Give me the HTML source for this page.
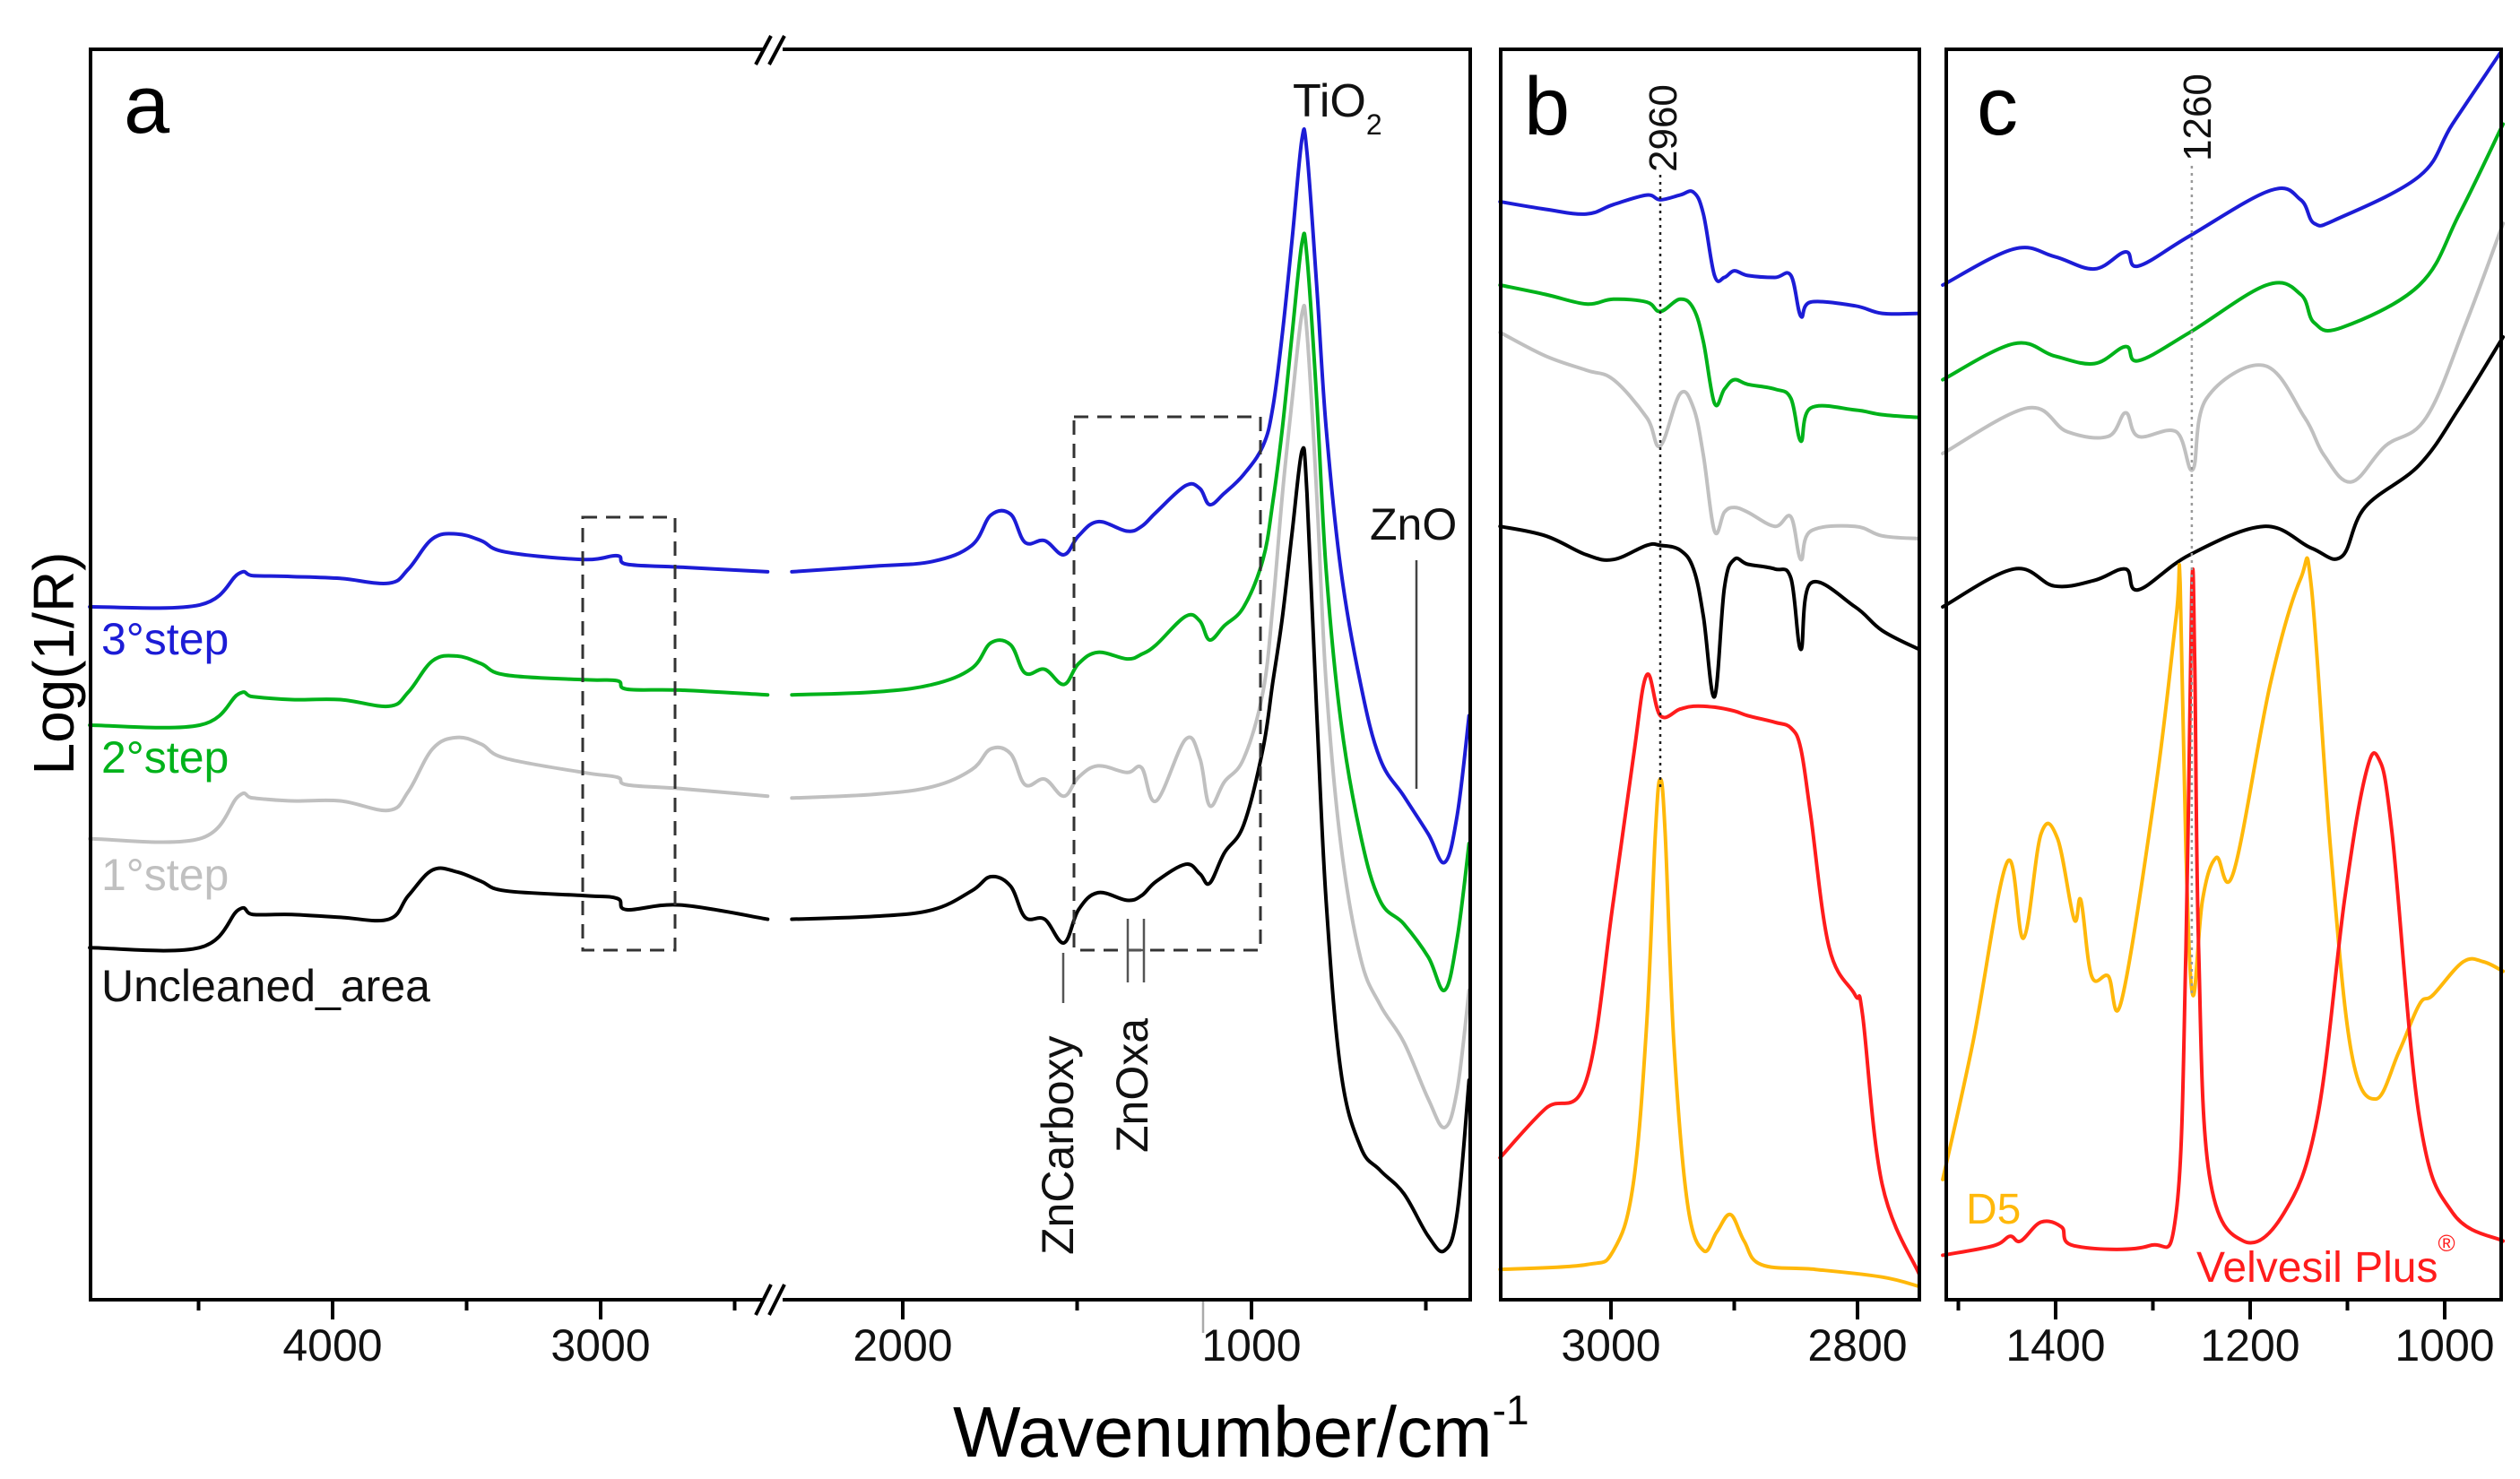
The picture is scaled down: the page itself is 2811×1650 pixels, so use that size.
<!DOCTYPE html>
<html><head><meta charset="utf-8"><style>
html,body{margin:0;padding:0;background:#fff;}
svg{display:block;font-family:"Liberation Sans",Arial,sans-serif;}
</style></head><body>
<svg id="chart" width="2811" height="1650" viewBox="0 0 2811 1650" xmlns="http://www.w3.org/2000/svg">
<g id="marks"></g>
<g id="deco"></g>
</svg>
<script>
// ---- Panel a data ----
const aWnLeft = [4906,4496,4351,4297,4152,3971,3790,3717,3627,3536,3446,3355,3065,2938,2902,2703,2377];
const aWnRight = [2318,2081,1914,1802,1747,1691,1649,1593,1538,1496,1440,1357,1315,1273,1189,1148,1120,1078,1022,967,939,911,883,855,841,813,786,744,688,632,563,493,446,410,376];
const aBlueL = [73.2,73.4,76.7,76.5,76.4,76.2,75.7,77.2,80.4,80.9,80.2,79.0,78.2,78.6,77.7,77.4,76.9];
const aBlueR = [76.9,77.5,78.0,79.7,82.9,83.0,80.0,80.2,78.7,80.7,82.2,81.2,81.7,83.2,86.0,85.7,84.0,85.2,87.2,90.2,94.2,102.2,112.2,122.7,121.2,107.2,92.2,77.2,65.2,57.2,53.2,49.2,46.2,51.2,61.7];
const aGreenL = [60.7,60.7,64.0,63.7,63.4,63.4,62.7,64.2,67.5,68.0,67.2,66.0,65.5,65.4,64.5,64.4,63.9];
const aGreenR = [63.9,64.2,65.0,66.7,69.4,69.2,66.2,66.6,65.0,67.2,68.4,67.7,68.2,69.2,72.2,71.7,69.7,71.2,73.2,78.2,84.2,92.2,102.2,111.7,110.2,95.2,77.2,61.2,49.2,42.2,39.7,36.2,32.7,38.2,48.2];
const aGrayL = [48.7,48.7,53.2,53.0,52.7,52.7,51.7,53.7,58.2,59.4,58.7,57.2,55.7,55.2,54.4,54.0,53.2];
const aGrayR = [53.0,53.4,54.2,56.0,58.2,57.7,54.4,55.0,53.2,55.2,56.4,55.7,56.2,52.7,59.2,57.2,52.2,54.7,57.2,64.2,73.2,85.2,95.2,104.2,102.2,85.2,65.2,48.2,36.2,31.2,27.2,21.2,18.2,22.2,32.7];
const aBlackL = [37.2,37.2,41.2,40.7,40.7,40.4,40.2,42.7,45.4,45.2,44.2,43.2,42.7,42.4,41.2,41.7,40.2];
const aBlackR = [40.2,40.5,41.2,43.2,44.7,43.7,40.4,40.2,37.7,41.2,43.0,42.2,42.7,44.2,46.0,45.0,44.0,47.2,50.2,58.2,65.2,72.2,81.2,89.7,85.2,62.2,42.2,24.2,16.2,13.7,11.2,6.7,5.2,9.2,23.2];
const aTicks = [4000,3000,2000,1000];
const aMinor = [4500,3500,2500,1500,500];
// ---- Panel b data ----
const bWn = [3090,3053,3020,2998,2971,2960,2944,2933,2925,2916,2908,2900,2889,2867,2854,2846,2838,2802,2780,2750];
const bBlue = [116,115.2,114.7,115.7,116.7,116.2,116.7,117,114.7,108.2,108,108.7,108.2,108,108.2,103.9,105.4,105,104.2,104.2];
const bGreen = [107.2,106.2,105.2,105.7,105.4,104.4,105.7,104.7,101.2,94.7,96.2,97.2,96.7,96.2,95.2,90.7,94.2,94,93.5,93.2];
const bGray = [102.2,99.7,98.2,97.2,93.2,90.2,95.7,94.2,89.2,81.2,83.2,83.7,83.2,81.7,82.7,78.2,81.2,81.7,80.7,80.4];
const bBlack = [81.7,80.7,78.7,78.2,79.7,79.7,79.2,77.2,72.2,63.7,75.2,78.2,77.7,77.2,76.2,68.7,75.7,73.2,70.7,68.7];
const bRedWn = [3090,3053,3020,2998,2982,2971,2960,2944,2933,2916,2900,2889,2867,2854,2846,2838,2823,2802,2796,2780,2750];
const bRed = [15,20.2,23.2,42.2,57.2,66,61.7,62.4,62.7,62.6,62.2,61.7,61,60.4,58.2,51.2,37.2,32.2,30.2,12.2,2.7];
const bD5Wn = [3090,3020,2998,2982,2971,2964,2960,2956,2949,2938,2925,2914,2903,2892,2878,2834,2780,2750];
const bD5 = [3.2,3.7,5.2,12.2,29.2,49.2,55,49.2,27.2,10.2,5.2,7.2,9,6.2,3.7,3.2,2.4,1.4];
const bTicks = [3000,2800];
const bMinor = [2900];
// ---- Panel c data ----
const cBlueWn = [1516,1443,1401,1360,1328,1315,1262,1179,1148,1134,1110,1026,992,943];
const cBlue = [107.2,111.0,110.2,108.9,110.7,109.2,112.4,117.2,116.2,113.7,114.2,118.7,124.2,131.7];
const cGreenWn = [1516,1443,1401,1360,1328,1315,1262,1183,1148,1134,1106,1026,985,940];
const cGreen = [97.2,101.0,99.7,98.9,100.7,99.2,102.2,107.2,106.2,103.2,102.7,107.2,114.7,124.2];
const cGrayWn = [1516,1429,1388,1346,1328,1315,1276,1259,1245,1186,1144,1124,1096,1061,1019,978,940];
const cGray = [89.4,94.2,91.7,91.2,93.7,91.2,91.7,87.7,95.2,98.7,93.2,89.2,86.4,90.2,93.2,103.2,113.7];
const cBlackWn = [1516,1443,1401,1360,1328,1315,1262,1186,1137,1106,1082,1026,985,940];
const cBlack = [73.2,77.2,75.4,76.0,77.2,75.0,78.7,81.7,79.4,78.5,83.7,88.2,94.2,101.7];
const cD5Wn = [1516,1485,1450,1433,1415,1398,1381,1374,1363,1346,1332,1297,1276,1272,1266,1259,1249,1235,1217,1179,1148,1137,1117,1096,1071,1047,1026,1012,981,960,940];
const cD5 = [12.7,27.2,46.2,38.2,49.2,48.7,40.2,42.2,34.2,34.2,31.7,54.2,72.2,75.7,47.2,32.2,42.2,46.7,45.2,65.2,76.2,75.2,47.2,26.2,21.2,26.2,31.2,32.2,35.7,35.7,34.7];
const cRedWn = [1516,1464,1447,1436,1415,1394,1381,1304,1276,1266,1260,1257,1253,1242,1207,1165,1131,1103,1082,1068,1054,1026,992,940];
const cRed = [4.7,5.7,6.7,6.2,8.2,7.7,5.7,5.7,9.2,37.2,75.2,67.2,37.2,13.2,6.2,9.2,19.2,42.2,55.2,57.2,49.2,19.2,9.2,6.2];
const cTicks = [1400,1200,1000];
const cMinor = [1500,1300,1100];

const NS = "http://www.w3.org/2000/svg";
const TOP = 55, BOT = 1450;
function yS(v){ return BOT - v*10.56; }
function xaL(w){ return 371 + (4000-w)*0.299; }
function xaR(w){ return 1007 + (2000-w)*0.389; }
function xb(w){ return 1797 + (3000-w)*1.375; }
function xc(w){ return 2293 + (1400-w)*1.085; }
const marks = document.getElementById('marks');
const deco = document.getElementById('deco');
function mk(tag, attrs, parent){ const e=document.createElementNS(NS,tag); for(const k in attrs) e.setAttribute(k,attrs[k]); (parent||deco).appendChild(e); return e; }
function smoothPath(P){
  let d = 'M'+P[0][0].toFixed(1)+','+P[0][1].toFixed(1);
  const t = 0.18;
  for(let i=0;i<P.length-1;i++){
    const p0=P[Math.max(0,i-1)], p1=P[i], p2=P[i+1], p3=P[Math.min(P.length-1,i+2)];
    const c1x=p1[0]+(p2[0]-p0[0])*t, c1y=p1[1]+(p2[1]-p0[1])*t;
    const c2x=p2[0]-(p3[0]-p1[0])*t, c2y=p2[1]-(p3[1]-p1[1])*t;
    d += ' C'+c1x.toFixed(1)+','+c1y.toFixed(1)+' '+c2x.toFixed(1)+','+c2y.toFixed(1)+' '+p2[0].toFixed(1)+','+p2[1].toFixed(1);
  }
  return d;
}
function line(wns, vals, xf, color, name){
  const P = wns.map((w,i)=>[xf(w), yS(vals[i])]);
  const p = mk('path',{d:smoothPath(P),fill:'none',stroke:color,'stroke-width':4,'stroke-linejoin':'round','stroke-linecap':'round'},marks);
  
  
}
const BLUE='#1c1cd6', GREEN='#00b21a', GRAY='#c0c0c0', BLACK='#000', RED='#ff1c1c', ORANGE='#ffb80a';
line(aWnLeft,aGrayL,xaL,GRAY,'series-1step-left'); line(aWnRight,aGrayR,xaR,GRAY,'series-1step-right');
line(aWnLeft,aBlackL,xaL,BLACK,'series-uncleaned-left'); line(aWnRight,aBlackR,xaR,BLACK,'series-uncleaned-right');
line(aWnLeft,aGreenL,xaL,GREEN,'series-2step-left'); line(aWnRight,aGreenR,xaR,GREEN,'series-2step-right');
line(aWnLeft,aBlueL,xaL,BLUE,'series-3step-left'); line(aWnRight,aBlueR,xaR,BLUE,'series-3step-right');
line(bWn,bBlue,xb,BLUE,'b-series-3step'); line(bWn,bGreen,xb,GREEN,'b-series-2step');
line(bWn,bGray,xb,GRAY,'b-series-1step'); line(bWn,bBlack,xb,BLACK,'b-series-uncleaned');
line(bRedWn,bRed,xb,RED,'b-series-velvesil'); line(bD5Wn,bD5,xb,ORANGE,'b-series-d5');
line(cBlueWn,cBlue,xc,BLUE,'c-series-3step'); line(cGreenWn,cGreen,xc,GREEN,'c-series-2step');
line(cGrayWn,cGray,xc,GRAY,'c-series-1step'); line(cBlackWn,cBlack,xc,BLACK,'c-series-uncleaned');
line(cD5Wn,cD5,xc,ORANGE,'c-series-d5'); line(cRedWn,cRed,xc,RED,'c-series-velvesil');

function ticks(list, xf, len, labels, prefix){
  list.forEach(w=>{
    const x=xf(w);
    const t=mk('line',{x1:x,y1:BOT,x2:x,y2:BOT+len,stroke:'#000','stroke-width':4});
    
    
    if(labels){
      const tx=mk('text',{x:x,y:BOT+68,'font-size':50,'text-anchor':'middle',fill:'#111'});
      tx.textContent=w;
      
      
    }
  });
}
ticks(aTicks.filter(w=>w>2400),xaL,22,true,'a-x'); ticks(aTicks.filter(w=>w<2400),xaR,22,true,'a-x');
ticks(aMinor.filter(w=>w>2400),xaL,12,false,'a-x-minor'); ticks(aMinor.filter(w=>w<2400),xaR,12,false,'a-x-minor');
ticks(bTicks,xb,22,true,'b-x'); ticks(bMinor,xb,12,false,'b-x-minor');
ticks(cTicks,xc,22,true,'c-x'); ticks(cMinor,xc,12,false,'c-x-minor');

const d1=mk('line',{x1:xb(2960),y1:195,x2:xb(2960),y2:880,stroke:'#222','stroke-width':2.5,'stroke-dasharray':'3,5'});
 
const d2=mk('line',{x1:xc(1260),y1:185,x2:xc(1260),y2:1110,stroke:'#999','stroke-width':2.5,'stroke-dasharray':'3,5'});
 
</script>
<script>
const dd = document.getElementById('deco');
dd.insertAdjacentHTML('beforeend', `
<g fill="none" stroke="#000" stroke-width="4">
  <polyline points="851,55 101,55 101,1450 851,1450"/>
  <polyline points="873,55 1640,55 1640,1450 873,1450"/>
  <line x1="843" y1="72" x2="860" y2="40"/><line x1="858" y1="72" x2="875" y2="40"/>
  <line x1="843" y1="1467" x2="860" y2="1433"/><line x1="858" y1="1467" x2="875" y2="1433"/>
</g>
<rect x="1674" y="55" width="467" height="1395" fill="none" stroke="#000" stroke-width="4"/>
<rect x="2171" y="55" width="619" height="1395" fill="none" stroke="#000" stroke-width="4"/>
<rect x="650" y="577" width="103" height="483" fill="none" stroke="#333" stroke-width="3" stroke-dasharray="16,10"/>
<rect x="1198" y="465" width="208" height="595" fill="none" stroke="#333" stroke-width="3" stroke-dasharray="16,10"/>
<text x="138" y="148" font-size="92">a</text>
<text x="1700" y="150" font-size="92">b</text>
<text x="2205" y="150" font-size="92">c</text>
<text x="1442" y="130" font-size="52" fill="#111">TiO<tspan font-size="32" dy="20">2</tspan></text>
<text x="1528" y="602" font-size="50" fill="#111">ZnO</text>
<line x1="1580" y1="625" x2="1580" y2="880" stroke="#444" stroke-width="2.5"/>
<text x="113" y="730" font-size="50" fill="#1c1cd6">3°step</text>
<text x="113" y="862" font-size="50" fill="#00b21a">2°step</text>
<text x="113" y="993" font-size="50" fill="#c0c0c0">1°step</text>
<text x="113" y="1117" font-size="50" fill="#111">Uncleaned_area</text>
<line x1="1186" y1="1063" x2="1186" y2="1119" stroke="#555" stroke-width="2.5"/>
<text transform="translate(1197,1400) rotate(-90)" font-size="50" fill="#111">ZnCarboxy</text>
<g stroke="#555" stroke-width="2.5">
  <line x1="1258" y1="1025" x2="1258" y2="1096"/><line x1="1276" y1="1025" x2="1276" y2="1096"/><line x1="1258" y1="1060" x2="1276" y2="1060"/>
</g>
<text transform="translate(1280,1286) rotate(-90)" font-size="50" fill="#111">ZnOxa</text>
<line x1="1342" y1="1452" x2="1342" y2="1487" stroke="#aaa" stroke-width="2.5"/>
<text transform="translate(1870,192) rotate(-90)" font-size="44" fill="#111">2960</text>
<text transform="translate(2466,180) rotate(-90)" font-size="44" fill="#111">1260</text>
<text x="2193" y="1365" font-size="48" fill="#ffb80a">D5</text>
<text x="2450" y="1430" font-size="48" fill="#ff1c1c">Velvesil Plus<tspan font-size="26" dy="-34">®</tspan></text>
<text transform="translate(82,740) rotate(-90)" font-size="64" text-anchor="middle" fill="#000">Log(1/R)</text>
<text x="1063" y="1625" font-size="80" fill="#000">Wavenumber/cm<tspan font-size="46" dy="-36">-1</tspan></text>
`);
</script>
</body></html>
